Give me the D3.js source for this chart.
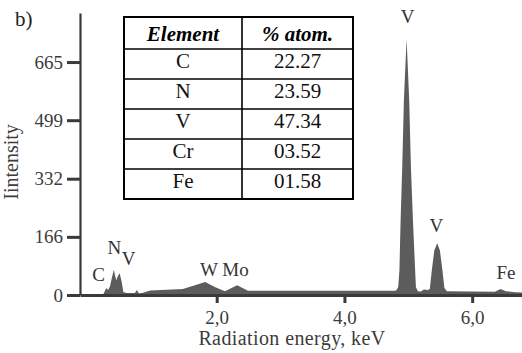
<!DOCTYPE html>
<html>
<head>
<meta charset="utf-8">
<script src="https://cdn.jsdelivr.net/npm/d3@7"></script>
<style>
  html, body { margin: 0; padding: 0; background: #fff; }
</style>
</head>
<body>
<svg id="chart" width="522" height="353"></svg>
<script>
// EDS spectrum: energy (keV) and intensity (counts)
const energy = [-0.14, 0.22, 0.24, 0.27, 0.30, 0.33, 0.36, 0.39, 0.41, 0.43, 0.455, 0.48, 0.51, 0.54,
  0.60, 0.72, 0.75, 0.78, 0.83, 0.96, 1.47, 1.66, 1.82, 1.97, 2.13, 2.32, 2.49,
  3.50, 4.79, 4.817, 4.842, 4.861, 4.880, 4.905, 4.931, 4.973, 5.014, 5.041, 5.072, 5.103, 5.119,
  5.150, 5.197, 5.244, 5.306, 5.337, 5.368, 5.408, 5.452, 5.494, 5.534, 5.565, 5.604,
  6.355, 6.444, 6.527, 6.681, 6.78];
const intensity = [0, 0, 8, 20, 14, 25, 50, 72, 55, 42, 55, 62, 40, 8,
  6, 6, 14, 5, 6, 13, 17, 28, 37, 23, 11, 28, 12,
  12, 12, 14, 23, 71, 217, 365, 557, 731, 557, 365, 217, 86, 23,
  11, 10, 16, 14, 17, 71, 128, 148, 128, 71, 20, 11,
  9, 17, 11, 8, 7];

// Peak identification labels
const peakLabels = ["C", "N", "V", "W Mo", "V", "V", "Fe"];
const peakEnergy = [0.15, 0.40, 0.62, 2.12, 4.99, 5.44, 6.53];
const peakLevel  = [40, 117, 86, 53, 777, 180, 46];

// Axis ticks
const yTickValues = [0, 166, 332, 499, 665];
const yTickLabels = ["0", "166", "332", "499", "665"];
const xTickValues = [2, 4, 6];
const xTickLabels = ["2,0", "4,0", "6,0"];

// Composition table
const tableHeader = ["Element", "% atom."];
const elements = ["C", "N", "V", "Cr", "Fe"];
const atomPercent = ["22.27", "23.59", "47.34", "03.52", "01.58"];

const fontName = "Times New Roman";
const svg = d3.select("#chart");
const axisColor = "#3a3a3a";

const x = d3.scaleLinear().domain([-0.14, 6.78]).range([80, 522]);
const y = d3.scaleLinear().domain([0, 805]).range([295, 13]);

// Spectrum fill
const spectrum = energy.map((e, i) => ({ e, v: intensity[i] }));
svg.append("path")
  .datum(spectrum)
  .attr("fill", "#5c5c5c")
  .attr("d", d3.area().x(d => x(d.e)).y0(y(0)).y1(d => y(d.v)));

// Y axis
const yAxis = svg.append("g")
  .attr("transform", "translate(80,0)")
  .call(d3.axisLeft(y).tickValues(yTickValues)
    .tickFormat((d, i) => yTickLabels[i])
    .tickSize(13).tickSizeOuter(0).tickPadding(4));
yAxis.attr("font-family", fontName).attr("font-size", 19);
yAxis.select(".domain").attr("stroke", axisColor).attr("stroke-width", 2.2);
yAxis.selectAll(".tick line").attr("stroke", axisColor).attr("stroke-width", 3);
yAxis.selectAll(".tick text")
  .attr("fill", "#3c3c3c")
  .attr("font-family", () => fontName).attr("font-size", 19);

// X axis
const xAxis = svg.append("g")
  .attr("transform", "translate(0,295)")
  .call(d3.axisBottom(x).tickValues(xTickValues)
    .tickFormat((d, i) => xTickLabels[i])
    .tickSize(8).tickSizeOuter(0));
xAxis.attr("font-family", fontName).attr("font-size", 19);
xAxis.select(".domain").attr("stroke", axisColor).attr("stroke-width", 3);
xAxis.selectAll(".tick line").attr("stroke", axisColor).attr("stroke-width", 3);
xAxis.selectAll(".tick text")
  .attr("fill", "#3c3c3c").attr("y", 29).attr("dy", null)
  .attr("font-family", () => fontName).attr("font-size", 19);

// Axis titles
svg.append("text")
  .attr("x", 292).attr("y", 345)
  .attr("text-anchor", "middle")
  .attr("fill", "#3c3c3c")
  .attr("font-family", () => fontName).attr("font-size", 20)
  .attr("letter-spacing", 0.4)
  .text("Radiation energy, keV");

svg.append("text")
  .attr("transform", "translate(18,162) rotate(-90)")
  .attr("text-anchor", "middle")
  .attr("fill", "#3c3c3c")
  .attr("font-family", () => fontName).attr("font-size", 20)
  .text("Iintensity");

// Panel letter
svg.append("text")
  .attr("x", 15).attr("y", 26)
  .attr("fill", "#222")
  .attr("font-family", () => fontName).attr("font-size", 21)
  .text("b)");

// Peak labels
svg.append("g").selectAll("text")
  .data(peakLabels)
  .join("text")
  .attr("x", (d, i) => x(peakEnergy[i]))
  .attr("y", (d, i) => y(peakLevel[i]))
  .attr("text-anchor", "middle")
  .attr("fill", "#333")
  .attr("font-family", () => fontName).attr("font-size", 19)
  .text(d => d);

// Composition table
const tbl = { left: 124, right: 353, top: 17, headerH: 32, rowH: 30, split: 242 };
const rows = elements.map((el, i) => [el, atomPercent[i]]);
const tblBottom = tbl.top + tbl.headerH + rows.length * tbl.rowH;
const colCenters = [(tbl.left + tbl.split) / 2, (tbl.split + tbl.right) / 2];
const tg = svg.append("g");

tg.append("rect")
  .attr("x", tbl.left).attr("y", tbl.top)
  .attr("width", tbl.right - tbl.left).attr("height", tblBottom - tbl.top)
  .attr("fill", "#fff").attr("stroke", "#000").attr("stroke-width", 2);

tg.append("line")
  .attr("x1", tbl.split).attr("x2", tbl.split)
  .attr("y1", tbl.top).attr("y2", tblBottom)
  .attr("stroke", "#000").attr("stroke-width", 1.6);

tg.selectAll("line.row")
  .data(rows)
  .join("line")
  .attr("class", "row")
  .attr("x1", tbl.left).attr("x2", tbl.right)
  .attr("y1", (d, i) => tbl.top + tbl.headerH + i * tbl.rowH)
  .attr("y2", (d, i) => tbl.top + tbl.headerH + i * tbl.rowH)
  .attr("stroke", "#000").attr("stroke-width", 1.6);

tg.selectAll("text.head")
  .data(tableHeader)
  .join("text")
  .attr("class", "head")
  .attr("x", (d, i) => colCenters[i])
  .attr("y", tbl.top + 24)
  .attr("text-anchor", "middle")
  .attr("fill", "#000")
  .attr("font-family", () => fontName).attr("font-size", 21)
  .attr("font-weight", "bold").attr("font-style", "italic")
  .text(d => d);

rows.forEach((r, i) => {
  tg.selectAll(null)
    .data(r)
    .join("text")
    .attr("x", (d, j) => colCenters[j])
    .attr("y", tbl.top + tbl.headerH + i * tbl.rowH + 19)
    .attr("text-anchor", "middle")
    .attr("fill", "#111")
    .attr("font-family", () => fontName).attr("font-size", 21)
    .text(d => d);
});
</script>
</body>
</html>
